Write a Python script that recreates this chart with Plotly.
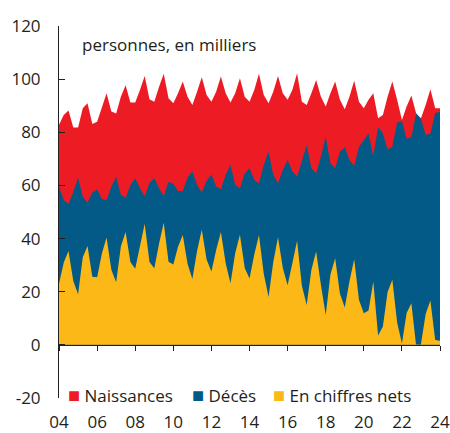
import pandas as pd
import plotly.graph_objects as go

# Quarterly data, 2004T1 .. 2024T1 (thousands of persons)
quarters = pd.period_range("2004Q1", "2024Q1", freq="Q")

naissances = [
    82.8, 86.5, 88.2, 81.8,
    81.8, 89.0, 90.9, 83.1,
    84.0, 89.0, 94.7, 87.8,
    87.1, 93.4, 97.7, 91.2,
    91.2, 95.9, 101.2, 92.4,
    91.5, 97.0, 102.0, 92.8,
    90.9, 94.7, 99.1, 93.4,
    90.3, 95.3, 100.7, 94.0,
    91.5, 95.3, 101.0, 94.7,
    91.2, 94.7, 100.3, 93.4,
    91.5, 95.9, 102.0, 94.0,
    90.9, 95.3, 101.2, 94.7,
    92.2, 95.9, 102.2, 91.5,
    90.3, 94.7, 99.7, 93.4,
    89.7, 94.7, 99.1, 92.2,
    88.7, 93.4, 99.4, 91.5,
    89.0, 92.2, 94.7, 85.3,
    86.5, 93.4, 99.1, 92.2,
    84.6, 89.7, 93.8, 87.1,
    85.3, 90.3, 96.2, 89.0,
    89.0,
]

deces = [
    59.6, 54.5, 53.0, 57.5,
    62.9, 55.8, 53.5, 57.3,
    58.6, 55.0, 54.5, 59.5,
    63.3, 56.5, 55.3, 60.2,
    62.7, 58.9, 55.8, 61.0,
    62.7, 59.0, 56.0, 61.4,
    60.6, 57.9, 57.9, 63.0,
    65.2, 60.2, 57.3, 61.8,
    64.0, 59.6, 58.6, 64.0,
    67.7, 60.2, 58.9, 64.6,
    66.5, 62.0, 60.8, 67.7,
    72.7, 64.0, 60.8, 65.8,
    69.6, 65.2, 63.3, 69.6,
    75.2, 66.5, 64.6, 70.8,
    78.4, 68.3, 66.5, 72.7,
    74.4, 69.6, 67.3, 74.6,
    77.1, 79.5, 71.0, 82.0,
    79.6, 73.5, 74.6, 83.7,
    84.2, 77.6, 78.2, 87.1,
    85.0, 79.0, 79.5, 87.3,
    87.7,
]

nets = [
    23.0, 31.0, 35.3, 24.0,
    19.0, 33.0, 37.2, 25.6,
    25.4, 34.3, 40.4, 28.3,
    23.6, 37.0, 42.5, 31.2,
    28.6, 37.0, 45.6, 31.2,
    28.8, 38.0, 46.0, 31.3,
    30.2, 36.9, 41.3, 30.5,
    24.8, 35.3, 43.3, 32.1,
    27.6, 35.7, 42.5, 30.7,
    23.2, 34.5, 41.4, 28.9,
    25.0, 33.9, 41.3, 26.8,
    18.0, 31.2, 40.5, 28.9,
    22.4, 30.7, 39.2, 22.2,
    15.0, 28.3, 35.1, 22.5,
    11.2, 26.5, 32.6, 19.2,
    14.1, 23.9, 32.2, 16.9,
    11.9, 12.9, 23.8, 3.5,
    6.9, 19.9, 24.5, 8.4,
    0.5, 12.0, 15.7, -0.4,
    0.2, 11.6, 16.7, 1.8,
    1.5,
]

series_names = ["Naissances", "Décès", "En chiffres nets"]
colors = ["#ED1C24", "#035A86", "#FBB816"]

x_tick_years = list(range(2004, 2025, 2))
x_tick_labels = ["04", "06", "08", "10", "12", "14", "16", "18", "20", "22", "24"]
y_tick_vals = [-20, 0, 20, 40, 60, 80, 100, 120]
y_tick_labels = ["-20", "0", "20", "40", "60", "80", "100", "120"]

x = quarters.to_timestamp()
tickvals = [f"{y}-01-01" for y in x_tick_years]

FONT = "Open Sans"
TXT = "#231F20"

fig = go.Figure()
for name, vals, col in zip(series_names, [naissances, deces, nets], colors):
    fig.add_trace(go.Scatter(
        x=x, y=vals, mode="lines", fill="tozeroy", name=name,
        line=dict(width=0, color=col), fillcolor=col,
        showlegend=False, hoverinfo="skip",
    ))
# empty helper trace so the zero-line axis (x2) is drawn
fig.add_trace(go.Scatter(x=[None], y=[None], xaxis="x2", showlegend=False,
                         hoverinfo="skip"))

# legend drawn as text entries with coloured squares
legend_x_px = [66, 190, 271]
annotations = [dict(
    text="personnes, en milliers", x=(80 - 59) / 381, y=(398 - 45) / 372,
    xref="paper", yref="paper", xanchor="left", yanchor="middle", showarrow=False,
    font=dict(size=17, color=TXT, family=FONT),
)]
for name, col, px in zip(series_names, colors, legend_x_px):
    annotations.append(dict(
        text=f'<span style="color:{col};font-size:20px">■</span> {name}',
        x=(px - 59) / 381, y=(398 - 394) / 372, xref="paper", yref="paper",
        xanchor="left", yanchor="middle", showarrow=False,
        font=dict(size=17, color=TXT, family=FONT),
    ))

fig.update_layout(
    width=450, height=433,
    margin=dict(l=59, r=10, t=26, b=35, autoexpand=False),
    paper_bgcolor="white", plot_bgcolor="white",
    font=dict(family=FONT, size=17, color=TXT),
    showlegend=False,
    xaxis=dict(
        type="date", range=["2004-01-01", "2024-01-01"],
        tickvals=tickvals, ticktext=x_tick_labels,
        showline=False, showgrid=False, zeroline=False,
        ticks="outside", ticklen=9, tickcolor="rgba(0,0,0,0)",
        tickfont=dict(size=17, color=TXT), automargin=False,
    ),
    xaxis2=dict(
        type="date", matches="x", overlaying="x", anchor="free", position=20/140,
        tickvals=tickvals, showticklabels=False,
        showline=True, linecolor="#231F20", linewidth=1,
        ticks="outside", ticklen=5, tickcolor="#231F20", tickwidth=1,
        showgrid=False, zeroline=False, layer="above traces",
    ),
    yaxis=dict(
        range=[-20, 120], tickvals=y_tick_vals, ticktext=y_tick_labels,
        showline=True, linecolor="#231F20", linewidth=1,
        ticks="inside", ticklen=6, tickcolor="#231F20",
        showgrid=False, zeroline=False, ticklabelstandoff=14,
        tickfont=dict(size=17, color=TXT), automargin=False,
    ),
    annotations=annotations,
)

fig.write_html(
    "out.html",
    config={"displayModeBar": False},
    post_script="document.body.style.margin='0';document.body.style.padding='0';",
)
